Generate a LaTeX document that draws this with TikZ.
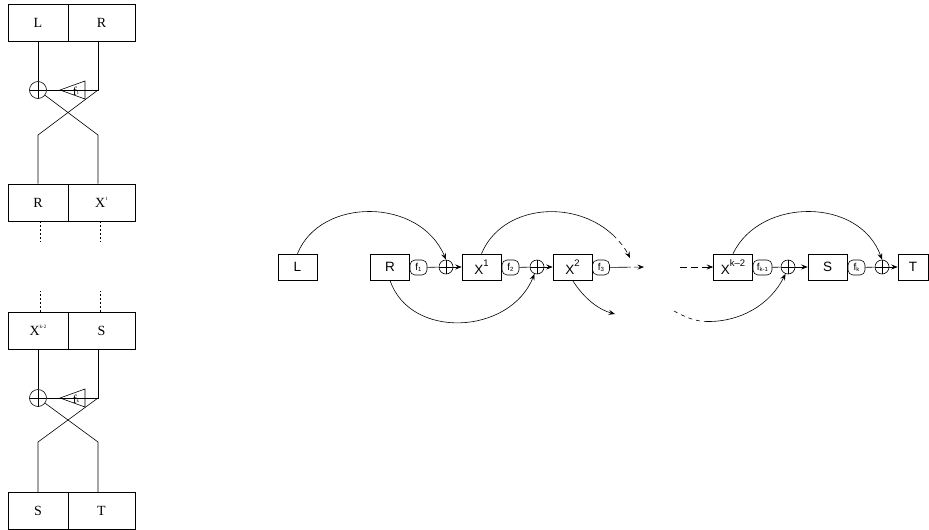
\documentclass[tikz,border=0pt]{standalone}
\usepackage{fontspec}
\setmainfont{Liberation Serif}
\newfontfamily\diagsans{Liberation Sans}
\usetikzlibrary{arrows.meta}

% raised / lowered small text
\newcommand{\tinysup}[1]{\raisebox{1.05ex}{\fontsize{5}{5}\selectfont #1}}
\newcommand{\bigsup}[1]{\raisebox{0.62em}{\fontsize{9.5}{9.5}\selectfont #1}}
\newcommand{\fsub}[1]{\raisebox{-0.25ex}{\fontsize{6}{6}\selectfont #1}}
\newcommand{\trisub}[1]{\raisebox{0.2ex}{\fontsize{5}{5}\selectfont #1}}

\begin{document}
\begin{tikzpicture}[x=1pt,y=-1pt,line width=0.6pt,
  lcell/.style={draw,minimum width=60pt,minimum height=37pt,inner sep=0pt,
                font=\fontsize{14}{16}\selectfont},
  rcell/.style={draw,minimum width=67pt,minimum height=37pt,inner sep=0pt,
                font=\fontsize{14}{16}\selectfont},
  xorl/.style={circle,draw,minimum size=17pt,inner sep=0pt,
               path picture={\draw (path picture bounding box.north) -- (path picture bounding box.south)
                                   (path picture bounding box.west) -- (path picture bounding box.east);}},
  xorm/.style={xorl,minimum size=14pt},
  blk/.style={draw,minimum width=39pt,minimum height=26pt,inner sep=0pt,
              font=\diagsans\fontsize{13.5}{15}\selectfont},
  fbox/.style={draw,rounded corners=5pt,minimum width=17pt,minimum height=15pt,inner sep=0pt,
               font=\diagsans\fontsize{10}{10}\selectfont},
  trilabel/.style={font=\fontsize{12}{12}\selectfont,inner sep=0pt},
  arr/.style={-{Stealth[length=6.5pt,width=5pt,inset=2.5pt]}},
  dots/.style={dash pattern=on 2pt off 2pt}
]
\useasboundingbox (0,0) rectangle (929,530);

% ---------- first round of the ladder ----------
\node[lcell] (a1) at (38,22.5) {L};
\node[rcell] (b1) at (101.5,22.5) {R};
\node[xorl] (x1) at (38,90) {};
\coordinate (t1) at (98,90);
\coordinate (c1l) at (38,135);
\coordinate (c1r) at (98,135);
\node[lcell] (a2) at (38,202.5) {R};
\node[rcell] (b2) at (101.5,202.5) {X\tinysup{1}};

\draw (a1.south) -- (x1);
\draw (b1.south -| t1) -- (t1) -- (x1);
\draw (85,81) -- (60,90) -- (85,99) -- cycle;
\node[trilabel] (g1) at (76,91.5) {f\trisub{1}};
\draw (t1) -- (c1l) -- (a2.north);
\draw (x1) -- (c1r) -- (b2.north -| c1r);

\draw[dots] ([xshift=2pt]a2.south) -- ++(0,21);
\draw[dots] (b2.south -| 100,0) -- ++(0,21);

% ---------- last round of the ladder ----------
\node[lcell] (a3) at (38,330.5) {X\tinysup{k-2}};
\node[rcell] (b3) at (101.5,330.5) {S};
\draw[dots] ([xshift=2pt]a3.north) -- ++(0,-21);
\draw[dots] (b3.north -| 100,0) -- ++(0,-21);

\node[xorl] (x2) at (38,398) {};
\coordinate (t2) at (98,398);
\coordinate (c2l) at (38,442);
\coordinate (c2r) at (98,442);
\node[lcell] (a4) at (38,511) {S};
\node[rcell] (b4) at (101.5,511) {T};

\draw (a3.south) -- (x2);
\draw (b3.south -| t2) -- (t2) -- (x2);
\draw (85,389) -- (60,398) -- (85,407) -- cycle;
\node[trilabel] (g2) at (76,399.5) {f\trisub{k}};
\draw (t2) -- (c2l) -- (a4.north);
\draw (x2) -- (c2r) -- (b4.north -| c2r);

% ---------- unrolled chain ----------
\node[blk] (L)  at (297.5,267) {L};
\node[blk] (R)  at (390,267) {R};
\node[fbox] (f1) at (418.5,267.5) {f\fsub{1}};
\node[xorm] (o1) at (446,267) {};
\node[blk] (X1) at (481.5,267) {X\bigsup{1}};
\node[fbox] (f2) at (510.5,267.5) {f\fsub{2}};
\node[xorm] (o2) at (537,267) {};
\node[blk] (X2) at (572.5,267) {X\bigsup{2}};
\node[fbox] (f3) at (601,267.5) {f\fsub{3}};
\coordinate (e3) at (644,267);
\coordinate (e4) at (615,314);
\coordinate (e5) at (630,258);

\coordinate (s1) at (680,267);
\coordinate (s2) at (674,311);
\node[blk] (Xk) at (733,267) {X\bigsup{k\textendash 2}};
\node[fbox,minimum width=19pt] (fk1) at (762.5,267.5) {f\fsub{k-1}};
\node[xorm] (o3) at (788,267) {};
\node[blk] (S)  at (827.5,267) {S};
\node[fbox] (fk) at (856.5,267.5) {f\fsub{k}};
\node[xorm] (o4) at (882,267) {};
\node[blk,minimum width=30pt] (T) at (913,267) {T};

% straight links
\draw (f1) -- (o1);  \draw[arr] (o1) -- (X1);
\draw (f2) -- (o2);  \draw[arr] (o2) -- (X2);
\draw[arr,dash pattern=on 21pt off 3pt on 30pt] (f3) -- (e3);
\draw[arr,dash pattern=on 7pt off 4pt] (s1) -- (Xk);
\draw (fk1) -- (o3); \draw[arr] (o3) -- (S);
\draw (fk) -- (o4);  \draw[arr] (o4) -- (T);

% arcs
\draw[arr] (L.north) .. controls (320,197) and (420,197) .. (o1.north);
\draw[arr] (R.south) .. controls (410,340) and (510,335) .. (o2.250);
\draw (X1.north) .. controls (501.55,205.25) and (573.12,198.24) .. (612.58,234.65)
      coordinate (m1);
\draw[arr,dash pattern=on 5pt off 4pt] (m1) .. controls (619.54,241.07) and (625.5,248.85) .. (e5);
\draw[arr] (X2.south) .. controls (585,300) and (600,310) .. (e4);

\draw[arr] (Xk.north) .. controls (760,197) and (860,197) .. (o4.north);
\draw[dash pattern=on 4pt off 4pt] (s2) .. controls (685,317) and (695,321.5) .. (707,321.5)
      coordinate (m2);
\draw[arr] (m2) .. controls (740,322) and (770,305) .. (o3.250);
\end{tikzpicture}
\end{document}
